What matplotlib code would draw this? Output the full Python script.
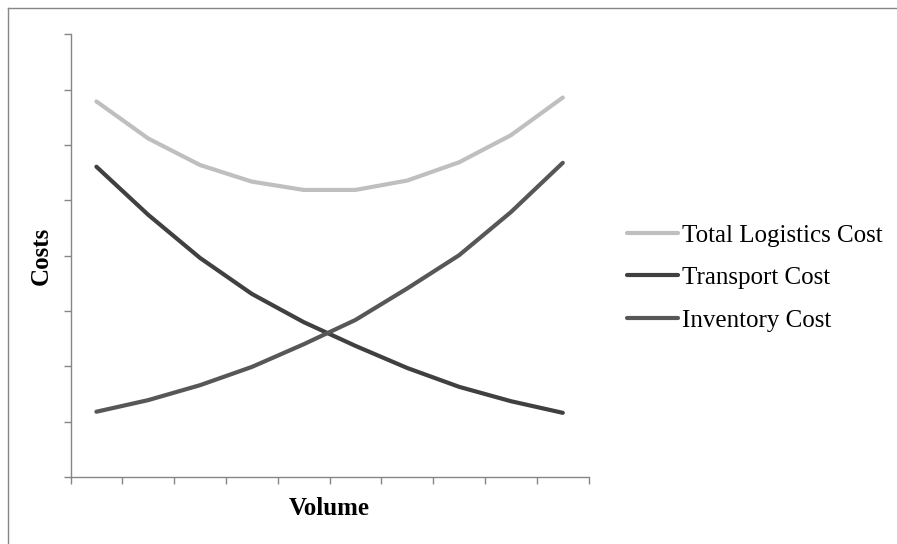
import numpy as np
import matplotlib
matplotlib.use("Agg")
import matplotlib.pyplot as plt
from matplotlib.lines import Line2D

# volume steps and cost curves (arbitrary units)
volume = np.arange(10)
total_cost = [6.79, 6.12, 5.64, 5.34, 5.19, 5.19, 5.36, 5.69, 6.18, 6.86]
transport_cost = [5.61, 4.74, 3.96, 3.31, 2.80, 2.37, 1.97, 1.63, 1.37, 1.16]
inventory_cost = [1.18, 1.39, 1.66, 1.99, 2.40, 2.84, 3.41, 4.01, 4.79, 5.68]
series_names = ['Total Logistics Cost', 'Transport Cost', 'Inventory Cost']

plt.rcParams['font.family'] = ['Liberation Serif', 'DejaVu Serif']

W, H = 897, 544
fig = plt.figure(figsize=(W / 100, H / 100), dpi=100)
ax = fig.add_axes([70.5 / W, (H - 477) / H, (588.7 - 70.5) / W, (477 - 34.5) / H])

ax.plot(volume, total_cost, color='#bfbfbf', lw=3, solid_capstyle='round', label=series_names[0])
ax.plot(volume, transport_cost, color='#404040', lw=3, solid_capstyle='round', label=series_names[1])
ax.plot(volume, inventory_cost, color='#575757', lw=3, solid_capstyle='round', label=series_names[2])

ax.set_xlim(-0.5, 9.5)
ax.set_ylim(0, 8)
ax.set_xticks(np.arange(-0.5, 10, 1))
ax.set_yticks(np.arange(0, 9, 1))
ax.set_xticklabels([])
ax.set_yticklabels([])
ax.tick_params(length=5, width=1, color='#868686', direction='out')
for s in ['top', 'right']:
    ax.spines[s].set_visible(False)
for s in ['left', 'bottom']:
    ax.spines[s].set_color('#868686')
    ax.spines[s].set_linewidth(1)

ax.set_xlabel('Volume', fontsize=18, fontweight='bold', labelpad=6)
ax.set_ylabel('Costs', fontsize=18, fontweight='bold', labelpad=4)

ax.legend(loc='center left', bbox_to_anchor=(1.055, 0.45), frameon=False,
          fontsize=18, handlelength=2.05, handletextpad=0.16, labelspacing=0.8,
          borderaxespad=0)

# chart area border (top and left edges)
fig.lines.append(Line2D([7.5 / W, 1], [1 - 7.5 / H, 1 - 7.5 / H],
                        transform=fig.transFigure, color='#868686', lw=1))
fig.lines.append(Line2D([7.5 / W, 7.5 / W], [0, 1 - 7.5 / H],
                        transform=fig.transFigure, color='#868686', lw=1))

fig.savefig('out.png', dpi=100)
